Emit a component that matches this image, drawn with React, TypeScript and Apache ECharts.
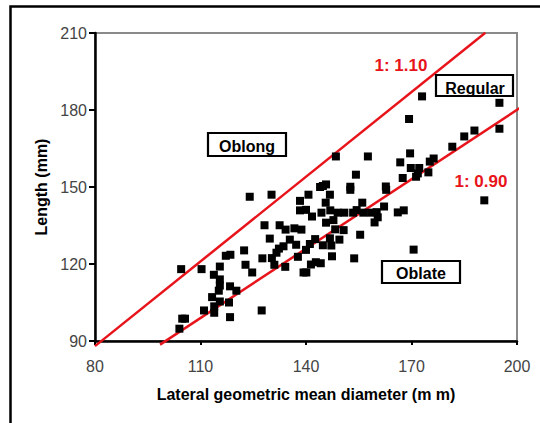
import React, { useEffect, useRef } from "react";
import * as echarts from "echarts";

// Lateral geometric mean diameter (mm)
const diameter = [
  104.5, 110.3, 104.8, 105.6, 104, 111, 115.5, 113.8, 115.5, 115.5,
  115.2, 113.3, 113.9, 113.9, 115.5, 118.1, 118.4, 118.4, 120.2, 117.2,
  118.5, 122.4, 122.8, 124.7, 124, 127.4, 127.6, 128.2, 130.2, 129.7,
  130.3, 131, 132.3, 132.5, 134.2, 133.6, 131.6, 134.1, 135.4, 136.7,
  137.2, 138.7, 137.7, 138.3, 138.3, 140, 140.7, 140, 139.3, 140.1,
  141.4, 141.7, 141.1, 142.6, 142.8, 144, 144.8, 145.7, 145.6, 144.4,
  144.8, 144.2, 145.7, 146.8, 146.9, 146.8, 147.2, 147.4, 147.8, 148.5,
  148.3, 149, 149.5, 150.9, 150.7, 152.6, 152.6, 153.4, 154.2, 154.4,
  153.7, 155.4, 156, 156.3, 157.6, 158.5, 159.5, 160.1, 160.4, 162.2,
  162.7, 162.8, 166.1, 167.8, 166.8, 167.5, 169.3, 169.6, 169.8, 171.3,
  172.2, 171.8, 173, 170.6, 174.8, 175.2, 176.3, 181.6, 185, 187.9,
  190.7, 195, 195,
];

// Length (mm)
const length = [
  118, 118, 98.7, 98.7, 94.8, 101.9, 119, 115.8, 114, 111.6,
  109.6, 107.1, 103.5, 101, 105.4, 105, 99.3, 111.3, 109.6, 123.2,
  123.6, 125.3, 119.7, 116.7, 146.2, 101.9, 122.2, 135.1, 147, 129.9,
  122.3, 119.7, 126, 135.1, 133.4, 126.9, 124.4, 118.9, 129.5, 133.9,
  127.5, 133.4, 122.8, 144.6, 140.9, 141.1, 147, 125.5, 116.7, 116.7,
  119.8, 138.5, 127.8, 129.7, 120.7, 150, 150.4, 151, 143.9, 140,
  127.3, 120.3, 136.1, 147, 140.9, 130, 127.2, 123, 137.1, 161.9,
  133.5, 140, 129.5, 140, 133.2, 150.1, 148.9, 140, 154.8, 141,
  122.2, 131.4, 143.9, 140, 161.9, 140, 136.2, 140.2, 138.2, 142.4,
  150.2, 148.9, 140.1, 140.9, 159.6, 153.5, 176.5, 163.1, 157.4, 154,
  157.4, 155.3, 185.3, 125.6, 155.7, 159.9, 161.1, 165.7, 169.7, 172,
  144.8, 182.8, 172.7,
];

// Reference ratio lines (end points)
const upperLine = [
  [80, 88],
  [191, 210.1],
];
const lowerLine = [
  [98.5, 88.6],
  [201.5, 181.4],
];

const xTickLabels = ["80", "110", "140", "170", "200"];
const yTickLabels = ["90", "120", "150", "180", "210"];

const FONT = '"Liberation Sans", Arial, sans-serif';
const RED = "#e8141b";

export default function App() {
  const ref = useRef<HTMLDivElement>(null);

  useEffect(() => {
    const chart = echarts.init(ref.current!, null, { renderer: "svg" });
    const points = diameter.map((d, i) => [d, length[i]]);

    const box = (x: number, y: number, w: number, h: number, label: string, tx: number, ty: number) => [
      {
        type: "rect",
        shape: { x, y, width: w, height: h },
        style: { fill: "#fff", stroke: "#000", lineWidth: 2.2 },
        z: 10,
      },
      {
        type: "text",
        x: tx,
        y: ty,
        style: {
          text: label,
          fill: "#000",
          fontSize: 16,
          fontWeight: "bold",
          fontFamily: FONT,
          align: "center",
          verticalAlign: "middle",
        },
        z: 11,
      },
    ];

    chart.setOption({
      animation: false,
      backgroundColor: "#fff",
      grid: {
        left: 95,
        right: 23,
        top: 33,
        bottom: 82,
        show: true,
        borderColor: "#8a8a8a",
        borderWidth: 2,
        backgroundColor: "#fff",
      },
      xAxis: {
        type: "value",
        min: 80,
        max: 200,
        interval: 30,
        name: "Lateral geometric mean diameter (m m)",
        nameLocation: "middle",
        nameGap: 45,
        nameTextStyle: { fontFamily: FONT, fontSize: 16, fontWeight: "bold", color: "#000" },
        axisLine: { show: true, lineStyle: { color: "#000", width: 2.5 } },
        axisTick: { show: true, length: 4, lineStyle: { color: "#000", width: 2 } },
        axisLabel: {
          margin: 17,
          fontFamily: FONT,
          fontSize: 16,
          color: "#444",
          formatter: (v: number) => xTickLabels[Math.round((v - 80) / 30)] ?? String(v),
        },
        splitLine: { show: false },
      },
      yAxis: {
        type: "value",
        min: 90,
        max: 210,
        interval: 30,
        name: "Length (mm)",
        nameLocation: "middle",
        nameGap: 46,
        nameTextStyle: { fontFamily: FONT, fontSize: 16, fontWeight: "bold", color: "#000" },
        axisLine: { show: true, lineStyle: { color: "#000", width: 2.5 } },
        axisTick: { show: true, length: 6, lineStyle: { color: "#000", width: 2 } },
        axisLabel: {
          margin: 8,
          fontFamily: FONT,
          fontSize: 16,
          color: "#444",
          formatter: (v: number) => yTickLabels[Math.round((v - 90) / 30)] ?? String(v),
        },
        splitLine: { show: false },
      },
      series: [
        {
          type: "line",
          data: upperLine,
          clip: false,
          symbol: "none",
          lineStyle: { color: RED, width: 2.5 },
          z: 3,
        },
        {
          type: "line",
          data: lowerLine,
          clip: false,
          symbol: "none",
          lineStyle: { color: RED, width: 2.5 },
          z: 3,
        },
        {
          type: "scatter",
          data: points,
          symbol: "rect",
          symbolSize: 8,
          itemStyle: { color: "#000", opacity: 1 },
          z: 4,
        },
      ],
      graphic: [
        {
          type: "rect",
          shape: { x: 10.5, y: 6.5, width: 700, height: 700 },
          style: { fill: "none", stroke: "#000", lineWidth: 2.5 },
          silent: true,
          z: 20,
        },
        {
          type: "text",
          x: 401,
          y: 65,
          style: {
            text: "1: 1.10",
            fill: RED,
            fontSize: 17,
            fontWeight: "bold",
            fontFamily: FONT,
            align: "center",
            verticalAlign: "middle",
          },
          z: 12,
        },
        {
          type: "text",
          x: 481,
          y: 181,
          style: {
            text: "1: 0.90",
            fill: RED,
            fontSize: 17,
            fontWeight: "bold",
            fontFamily: FONT,
            align: "center",
            verticalAlign: "middle",
          },
          z: 12,
        },
        ...box(208, 133, 78, 23, "Oblong", 247, 146),
        ...box(436, 75, 77, 21, "Regular", 475, 88),
        ...box(382, 261, 78, 22, "Oblate", 421, 273),
      ],
    });

    return () => chart.dispose();
  }, []);

  return (
    <div
      ref={ref}
      style={{ position: "absolute", left: 0, top: 0, width: 540, height: 423, background: "#fff" }}
    />
  );
}
